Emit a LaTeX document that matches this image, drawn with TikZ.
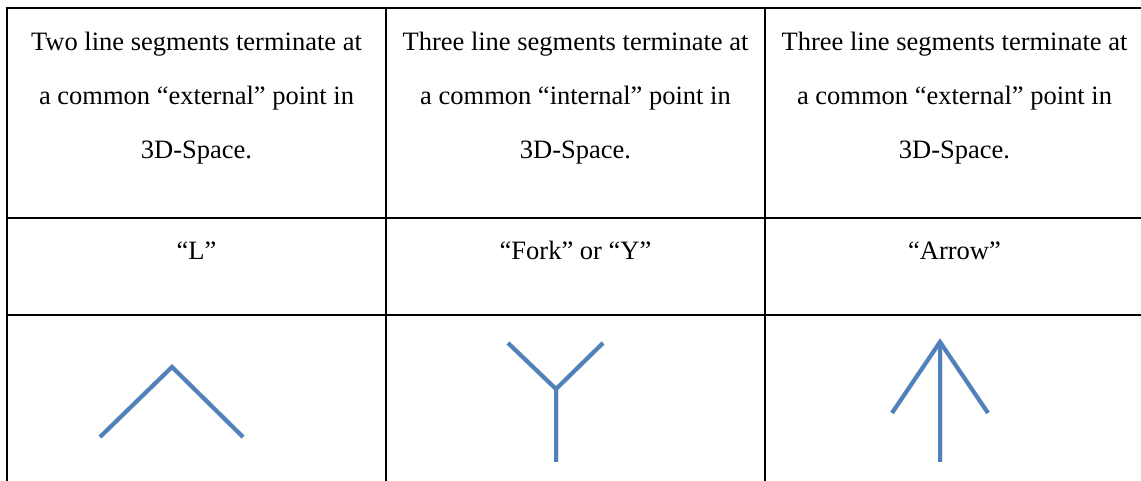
\documentclass[tikz,border=0pt]{standalone}
\usepackage{fontspec}
\setmainfont{Liberation Serif}
\usetikzlibrary{positioning}

\definecolor{segblue}{RGB}{79,129,189}

\begin{document}
\begin{tikzpicture}[x=1pt,y=-1pt,
    every node/.style={font=\fontsize{26.5}{54}\selectfont,inner sep=0pt},
    seg/.style={draw=segblue,line width=4pt},
    segshadow/.style={draw=black!12,line width=5pt,shift={(1.5,3)}},
    grid/.style={line width=2pt}]
  \clip (0,0) rectangle (1141,481);
  % table
  \foreach \x in {7,386,765,1144}{
    \draw[grid] (\x,7) -- (\x,495);
  }
  \foreach \y in {8,218,315}{
    \draw[grid] (6,\y) -- (1150,\y);
  }
  % first row
  \node[align=center,anchor=north] (descL) at (196.5,32) {Two line segments terminate at\\a common “external” point in\\3D-Space.};
  \node[align=center,anchor=north] (descY) at (575.5,32) {Three line segments terminate at\\a common “internal” point in\\3D-Space.};
  \node[align=center,anchor=north] (descA) at (954.5,32) {Three line segments terminate at\\a common “external” point in\\3D-Space.};
  % second row
  \node[anchor=base] (nameL) at (196.5,260) {“L”};
  \node[anchor=base] (nameY) at (575.5,260) {“Fork” or “Y”};
  \node[anchor=base] (nameA) at (954.5,260) {“Arrow”};
  % third row
  \coordinate (Ltop) at (172,367);
  \coordinate (Lleft) at (100,437);
  \coordinate (Lright) at (243,437);
  \coordinate (Yjoin) at (556,389);
  \coordinate (Yleft) at (508,343);
  \coordinate (Yright) at (603,343);
  \coordinate (Ybot) at (556,462);
  \coordinate (Atip) at (940,342);
  \coordinate (Aleft) at (892,413);
  \coordinate (Aright) at (988,413);
  \coordinate (Abot) at (940,462);
  \foreach \s in {segshadow,seg}{
    \draw[\s] (Lleft) -- (Ltop) -- (Lright);
    \draw[\s] (Yleft) -- (Yjoin) -- (Yright);
    \draw[\s] (Yjoin) -- (Ybot);
    \draw[\s] (Aleft) -- (Atip) -- (Aright);
    \draw[\s] (Atip) -- (Abot);
  }
\end{tikzpicture}
\end{document}
